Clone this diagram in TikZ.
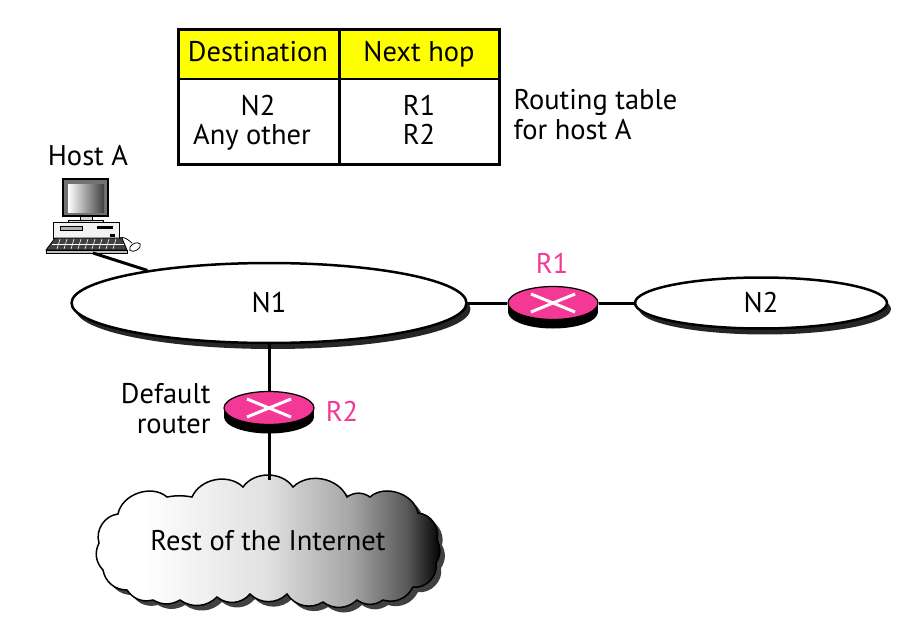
\documentclass[tikz,border=0pt]{standalone}
\usepackage{fontspec}
\setmainfont{PT Sans}
\usetikzlibrary{shapes.geometric,shadows}
\definecolor{routerpink}{RGB}{244,56,150}
\definecolor{headyellow}{RGB}{255,255,0}
\pgfdeclarehorizontalshading{cloudshade}{100bp}{color(0bp)=(white);color(32bp)=(white);color(50bp)=(black!12);color(62bp)=(black!35);color(70bp)=(black!65);color(75bp)=(black);color(100bp)=(black)}
\def\cloudpath{(99,543) to[bend left=50] (118,514) to[bend left=60] (167,497) to[bend left=10] (192,497)
  to[bend left=55] (243,487) to[bend left=55] (293,487) to[bend left=55] (347,497) to[bend left=35] (370,497)
  to[bend left=60] (418,513) to[bend left=50] (437,540) to[bend left=30] (436,563) to[bend left=55] (413,587)
  to[bend left=40] (383,600) to[bend left=35] (357,600) to[bend left=40] (323,602) to[bend left=45] (287,594)
  to[bend left=45] (250,594) to[bend left=45] (217,597) to[bend left=40] (180,600) to[bend left=30] (153,600)
  to[bend left=35] (127,590) to[bend left=40] (103,570) to[bend left=35] cycle}
\begin{document}
\begin{tikzpicture}[x=0.02cm,y=-0.02cm,line width=0.06cm]
\tikzset{lan/.style={draw, ellipse, fill=white, inner sep=0pt, line width=0.05cm, drop shadow={shadow xshift=0.08cm, shadow yshift=-0.12cm, opacity=1, fill=black!85}},
  routertop/.style={draw, ellipse, fill=routerpink, line width=0.025cm, minimum width=1.8cm, minimum height=0.66cm, inner sep=0pt},
  lbl/.style={font=\fontsize{16.2}{19}\selectfont, inner sep=0pt, anchor=base},
  pinklbl/.style={lbl, text=routerpink}}
\useasboundingbox (0,0) rectangle (918,642);
% table
\fill[headyellow] (178,30) rectangle (499,79);
\draw (178,30) rectangle (499,164);
\draw (178,79) -- (499,79);
\draw (339,30) -- (339,164);
\node[lbl] (dest) at (258,62) {Destination};
\node[lbl] (hop) at (419,62) {Next hop};
\node[lbl] (rowN) at (258,115) {N2};
\node[lbl] (rowAny) at (252,144) {Any other};
\node[lbl] (hopR1) at (419,115) {R1};
\node[lbl] (hopR2) at (419,144) {R2};
\node[lbl, anchor=base west] (noteA) at (512,110) {Routing table};
\node[lbl, anchor=base west] (noteB) at (512,139) {for host A};
% host
\node[lbl] (hostlabel) at (88,165) {Host A};
\coordinate (hostbase) at (93,253);
\draw[fill=black!55, line width=0.03cm] (63,179) rectangle (108,216);
\shade[left color=white, right color=black!75] (68,184) rectangle (104,212);
\draw[fill=black!15, line width=0.015cm] (80,216) rectangle (92,220);
\draw[fill=black!15, line width=0.015cm] (68,220) rectangle (103,222);
\draw[fill=black!5, line width=0.02cm] (53,222) rectangle (119,238);
\draw[fill=black!30, line width=0.02cm] (60,226) rectangle (82,230);
\fill[black] (97,226) rectangle (113,229);
\fill[black] (110,234) rectangle (115,237);
\draw[fill=black!75, line width=0.015cm] (55,238) -- (122,238) -- (127,250) -- (46,250) -- cycle;
\foreach \kx in {60,67,...,116}{\draw[white, line width=0.012cm] (\kx,239) -- (\kx-3,249);}
\draw[white, line width=0.012cm] (52,244) -- (124,244);
\draw[fill=black!25, line width=0.01cm] (46,250) rectangle (127,253);
\draw[line width=0.015cm] (119,238) .. controls (125,236) and (128,240) .. (132,243);
\draw[fill=white, line width=0.015cm, rotate around={30:(135,247)}] (135,247) ellipse (0.12cm and 0.07cm);
% networks
\node[lan, minimum width=7.9cm, minimum height=1.6cm] (N1) at (269,303) {};
\node[lbl] (N1label) at (269,312) {N1};
\node[lan, minimum width=5.04cm, minimum height=1.02cm] (N2) at (761,303) {};
\node[lbl] (N2label) at (761,312) {N2};
% routers
\foreach \r/\x/\y in {R1/553/303,R2/269/408}{
  \fill[black] (\x-45,\y) rectangle (\x+45,\y+9);
  \fill[black] (\x,\y+9) ellipse (0.9cm and 0.33cm);
  \node[routertop] (\r) at (\x,\y) {};
  \draw[white] (\x-22,\y-9) -- (\x+22,\y+9);
  \draw[white] (\x-22,\y+9) -- (\x+22,\y-9);
}
\node[pinklbl] (r1label) at (552,273) {R1};
\node[pinklbl] (r2label) at (342,421) {R2};
\node[lbl, anchor=base east] (defaultA) at (212,403) {Default};
\node[lbl, anchor=base east] (defaultB) at (212,433) {router};
% cloud
\begin{scope}[shift={(5,5)}]
\fill[black!75] \cloudpath;
\end{scope}
\draw[line width=0.03cm, shading=cloudshade] \cloudpath;
\node[lbl] (cloudlabel) at (268,550) {Rest of the Internet};
\coordinate (cloudtop) at (269,480);
% connectors
\draw (hostbase) -- (N1.165);
\draw (N1.east) -- (R1.west);
\draw (R1.east) -- (N2.west);
\draw (N1.south) -- (R2.north);
\draw (R2.south) -- (cloudtop);
\end{tikzpicture}
\end{document}
